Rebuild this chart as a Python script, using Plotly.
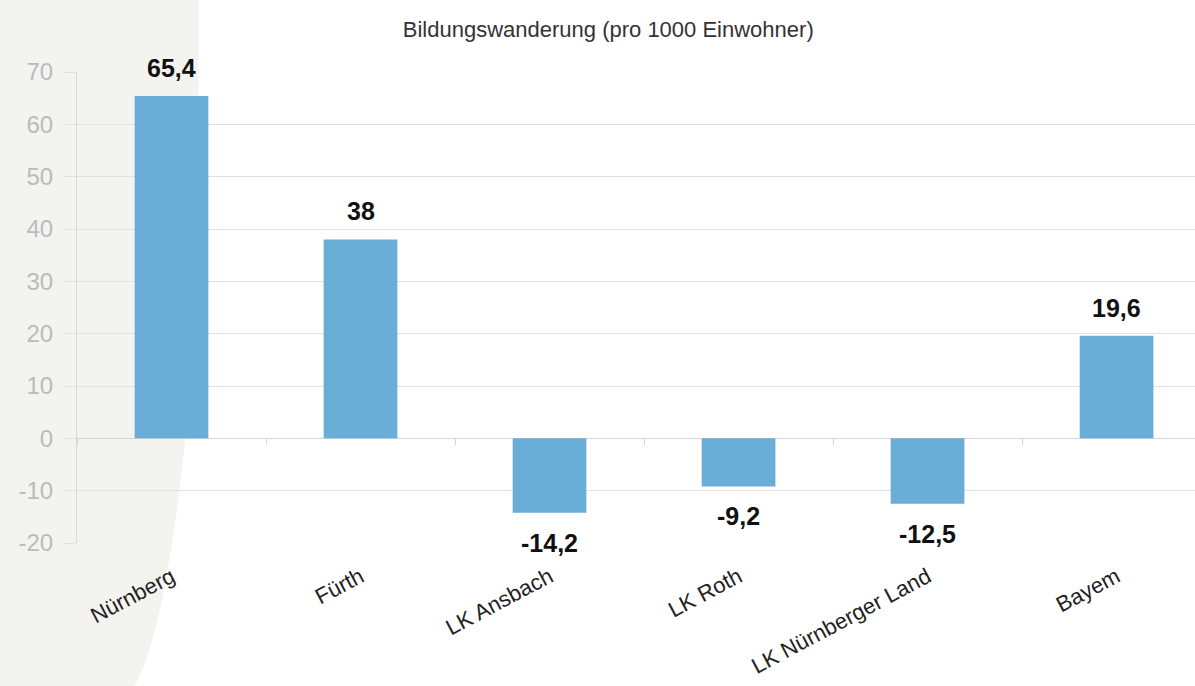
import plotly.graph_objects as go

categories = ["Nürnberg", "Fürth", "LK Ansbach", "LK Roth", "LK Nürnberger Land", "Bayern"]
tick_labels = ["Nürnberg", "Fürth", "LK Ansbach", "LK Roth", "LK Nürnberger Land", "Bayem"]
values = [65.4, 38, -14.2, -9.2, -12.5, 19.6]
value_labels = ["65,4", "38", "-14,2", "-9,2", "-12,5", "19,6"]
y_ticks = [-20, -10, 0, 10, 20, 30, 40, 50, 60, 70]
y_tick_labels = ["-20", "-10", "0", "10", "20", "30", "40", "50", "60", "70"]

BAR = "#6aadd6"
GRID = "#e2e2e2"

fig = go.Figure()
fig.add_trace(go.Bar(
    x=categories, y=values, marker_color=BAR, marker_line_width=0,
    hoverinfo="skip", showlegend=False,
))
# invisible trace to carry the boundary-tick axis on the zero line
fig.add_trace(go.Scatter(
    x=categories, y=[None] * len(categories), xaxis="x2", mode="markers",
    showlegend=False, hoverinfo="skip",
))

for c, v, t in zip(categories, values, value_labels):
    fig.add_annotation(
        x=c, y=v, text=f"<b>{t}</b>", showarrow=False,
        yanchor="bottom" if v >= 0 else "top",
        yshift=12 if v >= 0 else -14,
        font=dict(family="Liberation Sans Narrow, Arial Narrow, Liberation Sans, Arial", size=25, color="#111111"),
    )

# decorative light background band at the left
fig.add_shape(
    type="path", xref="paper", yref="paper", layer="below",
    path="M -0.08 1.2 L 0.109 1.2 C 0.109 0.6, 0.105 0.3, 0.085 0.0 C 0.075 -0.15, 0.065 -0.25, 0.05 -0.31 L -0.08 -0.31 Z",
    fillcolor="#f3f3ef", line_width=0,
)

fig.update_layout(
    width=1195, height=686,
    margin=dict(l=77, r=0, t=72, b=143, autoexpand=False),
    paper_bgcolor="white", plot_bgcolor="rgba(0,0,0,0)",
    bargap=0.61,
    title=dict(
        text="Bildungswanderung (pro 1000 Einwohner)",
        x=0.509, xanchor="center", y=0.958, yanchor="middle",
        font=dict(family="Liberation Sans, Arial", size=22, color="#333333"),
    ),
    xaxis=dict(
        type="category", categoryorder="array", categoryarray=categories,
        range=[-0.5, 5.415], automargin=False,
        tickmode="array", tickvals=categories, ticktext=tick_labels,
        tickangle=-28, ticks="", showgrid=False, showline=False, zeroline=False,
        ticklabelstandoff=16,
        tickfont=dict(family="Liberation Sans, Arial", size=22, color="#222222"),
    ),
    xaxis2=dict(
        type="category", categoryorder="array", categoryarray=categories,
        overlaying="x", anchor="free", position=20 / 90, side="bottom",
        range=[-0.5, 5.415], tickson="boundaries", ticks="outside", ticklen=6,
        tickcolor="#d5d5d5", showticklabels=False, showgrid=False, showline=False,
        zeroline=False,
    ),
    yaxis=dict(
        range=[-20, 70], tickmode="array", tickvals=y_ticks, ticktext=y_tick_labels,
        automargin=False,
        showgrid=True, gridcolor=GRID, gridwidth=1,
        zeroline=True, zerolinecolor="#d5d5d5", zerolinewidth=1,
        showline=True, linecolor="#d8d8d8", linewidth=1,
        ticks="outside", ticklen=12, tickcolor=GRID,
        ticklabelstandoff=6,
        tickfont=dict(family="Liberation Sans, Arial", size=24, color="#bbbbbb"),
    ),
)

fig.write_html(
    "out.html",
    config={"displayModeBar": False},
    post_script="document.body.style.margin='0';",
)
